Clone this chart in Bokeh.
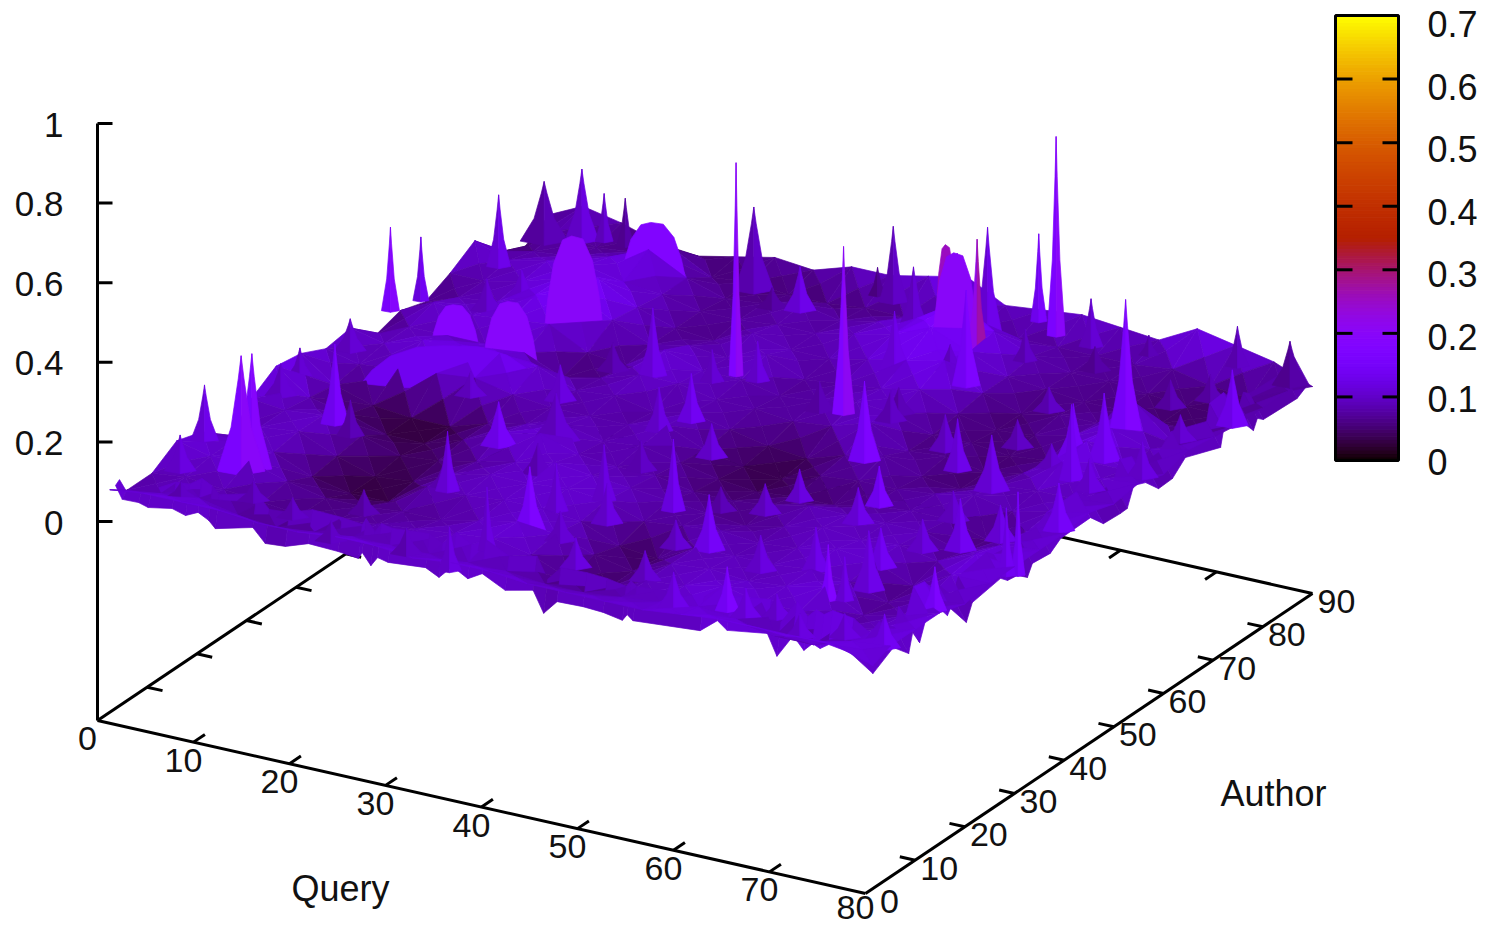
from bokeh.plotting import figure
from bokeh.models import Range1d, ColumnDataSource
from bokeh.core.properties import value
from bokeh.embed import file_html
from bokeh.resources import INLINE
import math

# ---------- data: surface heights (hundredths) ----------
query_nodes = [0.5, 4, 8, 12, 16, 20, 24, 28, 32, 36, 40, 44, 48, 52, 56, 60, 64, 68, 72, 76, 80]
author_nodes = [90, 85, 80, 75, 70, 65, 60, 55, 50, 45, 40, 35, 30, 25, 20, 15, 10, 5, 1.5]

z_a90 = [6,10,8,5,4,6,8,7,10,10,12,14,9,10,11,10,9,14,12,10,6]
z_a85 = [2,8,6,7,10,5,6,5,5,6,6,9,8,7,7,7,7,8,6,5,9]
z_a80 = [5,7,8,10,14,9,6,7,9,7,9,12,18,13,9,7,7,6,5,5,9]
z_a75 = [12,9,11,12,10,9,7,7,8,8,10,12,16,12,8,7,6,6,5,5,9]
z_a70 = [8,8,10,13,15,10,7,6,10,8,8,10,12,14,8,5,7,7,14,6,10]
z_a65 = [5,8,9,13,16,11,7,9,8,11,7,8,9,11,7,5,6,8,12,9,11]
z_a60 = [7,11,10,11,12,7,6,12,9,9,7,8,10,9,6,6,5,6,13,8,9]
z_a55 = [5,9,9,9,9,5,7,10,10,8,8,7,8,11,6,7,5,7,12,10,11]
z_a50 = [11,9,12,13,13,12,8,9,7,9,7,5,4,7,9,6,5,8,9,9,10]
z_a45 = [10,8,9,10,11,9,8,8,8,10,6,4,3,6,7,7,8,10,8,10,12]
z_a40 = [13,7,4,3,3,6,8,10,8,9,7,5,4,5,5,7,8,8,5,9,11]
z_a35 = [14,8,6,3,3,6,10,12,9,8,8,6,6,7,9,9,9,9,6,10,11]
z_a30 = [10,9,10,7,4,5,7,9,11,10,9,8,7,6,8,10,9,10,8,12,11]
z_a25 = [3,9,10,6,3,4,8,10,10,11,10,7,8,9,8,9,11,10,6,11,11]
z_a20 = [10,10,9,5,3,3,9,9,10,10,9,5,4,9,9,9,10,9,6,9,10]
z_a15 = [12,10,11,8,6,6,7,7,9,11,10,7,5,9,10,9,10,12,7,9,12]
z_a10 = [8,9,8,7,6,7,8,9,10,11,9,5,5,9,10,12,10,10,8,10,12]
z_a05 = [8,9,10,8,7,8,9,9,9,9,9,8,8,9,10,11,10,8,8,11,12]
z_a00 = [11,12,12,12,11,11,12,12,11,12,12,11,11,11,11,12,13,13,13,13,10]

# silhouette of the two front edges
front_edge_q = [1.1,1.8,3.5,4.5,7,8.4,9.7,10.8,11.5,15.4,16.7,18.8,21.2,24.3,26.4,26.8,27.7,28.4,29.5,33.4,34.8,36.2,37.8,39.3,41.7,44.6,45.7,47.1,49.8,51.9,53.9,54.4,55,62,63.8,64.8,69,70,71.7,72.8,73.7,74.5,75.4,77.6,80]
front_edge_z = [.124,.093,.094,.087,.098,.088,.103,.089,.072,.096,.063,.067,.087,.084,.078,.095,.067,.091,.085,.093,.076,.111,.089,.11,.081,.097,.045,.082,.084,.081,.072,.089,.077,.09,.125,.106,.121,.069,.13,.099,.121,.113,.128,.12,.08]
right_edge_a = [1.5,5.6,8.7,9.5,10.9,12.5,14.7,16.5,17.1,20.3,21.5,27.2,28.6,30.6,32.6,33.6,37.2,39.3,45.3,47.9,51.3,52.7,54,56.4,59,61.8,64.4,71.5,72.1,74.9,78.1,78.9,80.1,86.9,89.2]
right_edge_z = [.08,.111,.07,.116,.079,.141,.135,.10,.113,.051,.091,.104,.087,.083,.061,.088,.083,.103,.105,.068,.065,.066,.113,.10,.063,.065,.096,.062,.102,.106,.049,.073,.06,.056,.074]

# tall narrow peaks
spike_query = [34.7,47.5,55,52,59,.2,1.4,3.5,4.1,7,8.8,11,7.2,7.8,.8,2.4,9,11.6,1.7,.7,1.5,24.3,28.2,35.1,36.5,28.2,25.6,36.6,35.6,35,38.9,45.5,36.4,
               26.2,32.1,38.4,36.4,43.3,49.1,50.6,47.9,53.8,71.5,64.5,72.7,79,79.2,54.6,46.5,73.3,73,63,68,61,54.2,52.9,63.6,68,69.3,70,72.5,79.9,79,77.9,75.6,77.5,61.3,33.5,37,55.5]
spike_author = [61.5,58.4,86.7,89,86,58.6,62.4,74,82,84,85,85,15,16,20,12,30.4,28.5,47.6,39.4,34,33.8,57.3,45.2,49,37.8,21,16.3,9.6,3.2,26.8,28,22,
                81.5,79.4,86,86.7,80.6,84.3,79.3,80.5,70.9,68.8,87,89,87.4,75.4,48.9,70.6,61,55,51.4,48.6,39.5,36.6,20.9,21.7,15.7,16.5,20,33.6,30.9,30.3,43,53.6,18.8,8.3,59,61.4,79.5]
spike_height = [.615,.5,.58,.3,.2,.29,.24,.26,.23,.26,.2,.2,.37,.37,.22,.17,.28,.17,.16,.15,.16,.19,.25,.19,.2,.2,.23,.24,.24,.19,.22,.26,.2,
                .29,.19,.27,.15,.24,.34,.36,.3,.32,.41,.13,.18,.19,.22,.28,.23,.25,.27,.21,.22,.18,.16,.22,.19,.22,.19,.23,.21,.29,.25,.2,.16,.19,.19,.16,.18,.16]
spike_shade = [.21,.21,.2,.16,.11,.19,.14,.13,.09,.12,.11,.08,.2,.19,.13,.12,.16,.09,.11,.11,.11,.15,.13,.12,.14,.11,.13,.17,.12,.12,.12,.14,.12,
               .10,.13,.10,.07,.11,.13,.27,.2,.17,.18,.09,.1,.08,.15,.17,.13,.15,.14,.13,.13,.16,.12,.15,.13,.18,.13,.13,.14,.16,.14,.15,.12,.17,.17,.11,.12,.10]
spike_halfwidth = [7,11,9,8,12,9,8,12,24,17,9,9,24,20,14,16,14,14,16,12,16,18,14,14,14,24,12,16,9,12,12,12,12,
                   20,16,14,9,16,14,10,24,14,16,10,12,18,16,16,16,16,12,14,18,14,14,16,14,9,9,16,16,7,9,16,16,12,12,12,12,12]

# small low peaks that give the surface its rough texture
bump_query = [61.4,69.6,68.3,53,42.3,70.1,73.6,77.9,63.6,66,56.8,70,70.5,65,78.2,63.2,52,68.5,21.7,25,41.8,30.6,50,44.5,51.4,29.7,22.3,11.6,5.6,16.6,8.9,7.7,24.5,29.6,45.3,51.8,59.7,72.3,62.1,16.3,23.9,38.3,49.2,40.2,59.3,74.5,76.9,69.9,74.6,50.8]
bump_author = [34.5,31.6,25.7,32,41.9,5.9,8.2,7.9,7.6,9.2,6.2,56.8,60.2,59.6,59.2,69.4,59.2,39.9,11.7,21.6,21.8,29.5,19.8,10.3,10.9,4.8,3.9,9,6,7.2,68.2,63.5,56.4,78.6,57.8,61.2,55.3,76.3,80.8,43.6,47,35.4,30.4,15.5,18.9,37.8,69.4,70.9,79.9,73.5]
bump_height = [.17,.16,.18,.155,.165,.14,.14,.165,.155,.14,.17,.14,.215,.15,.17,.14,.155,.155,.14,.15,.18,.155,.15,.155,.155,.145,.13,.13,.12,.13,.15,.16,.15,.13,.155,.145,.17,.15,.14,.14,.17,.155,.14,.155,.17,.17,.145,.145,.145,.145]
bump_shade = [.13,.12,.14,.11,.12,.12,.12,.14,.13,.12,.13,.11,.15,.10,.12,.10,.10,.11,.09,.10,.12,.10,.11,.12,.11,.10,.10,.10,.10,.10,.12,.11,.09,.08,.09,.09,.11,.09,.08,.11,.12,.10,.09,.11,.12,.13,.11,.11,.09,.11]

# rounded broad humps
dome_query = [16, 14, 8, 16, 48, 46.5, 12]
dome_author = [65, 56, 56.5, 81, 80, 81, 48]
dome_height = [.30, .20, .155, .20, .306, .31, .145]
dome_shade = [.20, .195, .19, .18, .20, .255, .135]
dome_halfwidth = [30, 27, 24, 33, 24, 11, 90]

query_ticks = [0, 10, 20, 30, 40, 50, 60, 70, 80]
author_ticks = [0, 10, 20, 30, 40, 50, 60, 70, 80, 90]
z_ticks = [0, 0.2, 0.4, 0.6, 0.8, 1]
z_tick_labels = ["0", "0.2", "0.4", "0.6", "0.8", "1"]
cb_ticks = [0, 0.1, 0.2, 0.3, 0.4, 0.5, 0.6, 0.7]
cb_tick_labels = ["0", "0.1", "0.2", "0.3", "0.4", "0.5", "0.6", "0.7"]

rows = [z_a90, z_a85, z_a80, z_a75, z_a70, z_a65, z_a60, z_a55, z_a50, z_a45,
        z_a40, z_a35, z_a30, z_a25, z_a20, z_a15, z_a10, z_a05, z_a00]

# ---------- projection of the 3-D box on to the page ----------
X0, Y0 = 97, 521
QX, QY = 768 / 80, 173 / 80
AX, AY = 447 / 90, -300 / 90
ZS = 398
ZBASE = -0.5
SURF_DROP = 0.04
FONT = value("Liberation Sans")


def proj(q, a, z):
    return X0 + QX * q + AX * a, Y0 + QY * q + AY * a - ZS * z


def sproj(q, a, z):
    return proj(q, a, z - SURF_DROP)


def depth(q, a):
    return QY * q + AY * a


def palette(v):
    x = min(max(v / 0.7, 0), 1)
    r = math.sqrt(x)
    g = x ** 3
    b = max(math.sin(2 * math.pi * x), 0)
    return "#%02x%02x%02x" % (round(r * 255), round(g * 255), round(b * 255))


p = figure(width=1486, height=928, output_backend="svg", toolbar_location=None,
           x_range=Range1d(0, 1486), y_range=Range1d(928, 0), min_border=0)
p.xaxis.visible = False
p.yaxis.visible = False
p.xgrid.visible = False
p.ygrid.visible = False
p.outline_line_color = None
p.background_fill_color = "white"

# ---------- base box ----------
seg_x, seg_y = [], []


def seg(a, b):
    seg_x.append([a[0], b[0]])
    seg_y.append([a[1], b[1]])


o = proj(0, 0, ZBASE)
seg(o, proj(80, 0, ZBASE))
seg(proj(80, 0, ZBASE), proj(80, 90, ZBASE))
seg(proj(80, 90, ZBASE), proj(0, 90, ZBASE))
seg(proj(0, 90, ZBASE), o)
seg(o, proj(0, 0, 1))
for q in query_ticks[1:-1]:
    seg(proj(q, 0, ZBASE), proj(q, 2.3, ZBASE))
    seg(proj(q, 90, ZBASE), proj(q, 87.7, ZBASE))
for a in author_ticks[1:-1]:
    seg(proj(80, a, ZBASE), proj(78.4, a, ZBASE))
    seg(proj(0, a, ZBASE), proj(1.6, a, ZBASE))
for z in z_ticks:
    s = proj(0, 0, z)
    seg(s, (s[0] + 15, s[1]))
p.multi_line(seg_x, seg_y, line_color="black", line_width=3)

# ---------- surface and peaks, painted back to front ----------
items = []

# jagged edge strips go under anything nearer than a few units from the edge
for i in range(len(front_edge_q) - 1):
    q1, q2 = front_edge_q[i], front_edge_q[i + 1]
    z1, z2 = front_edge_z[i], front_edge_z[i + 1]
    x1, y1 = sproj(q1, 1.5, z1)
    x2, y2 = sproj(q2, 1.5, z2)
    h1, h2 = min(34, 2 + q1 * 3.5), min(34, 2 + q2 * 3.5)
    items.append((depth((q1 + q2) / 2, 9), [x1, x2, x2 + 4, x1 + 4], [y1, y2, y2 - h2, y1 - h1],
                  palette(0.05 + (z1 + z2) / 2 * 0.55)))
for i in range(len(right_edge_a) - 1):
    a1, a2 = right_edge_a[i], right_edge_a[i + 1]
    z1, z2 = right_edge_z[i], right_edge_z[i + 1]
    x1, y1 = sproj(80, a1, z1)
    x2, y2 = sproj(80, a2, z2)
    items.append((depth(74, (a1 + a2) / 2), [x1, x2, x2 - 14, x1 - 14], [y1, y2, y2 - 26, y1 - 26],
                  palette(0.05 + (z1 + z2) / 2 * 0.55)))

for j in range(len(author_nodes) - 1):
    for i in range(len(query_nodes) - 1):
        q1, q2 = query_nodes[i], query_nodes[i + 1]
        a1, a2 = author_nodes[j], author_nodes[j + 1]
        corners = [(q1, a1, rows[j][i] / 100), (q2, a1, rows[j][i + 1] / 100),
                   (q2, a2, rows[j + 1][i + 1] / 100), (q1, a2, rows[j + 1][i] / 100)]
        qc = sum(c[0] for c in corners) / 4
        ac = sum(c[1] for c in corners) / 4
        zc = sum(c[2] for c in corners) / 4
        for k in range(4):
            c1, c2 = corners[k], corners[(k + 1) % 4]
            pts = [sproj(*c1), sproj(*c2), sproj(qc, ac, zc)]
            v = (c1[2] + c2[2] + zc) / 3
            qk = (c1[0] + c2[0] + qc) / 3
            ak = (c1[1] + c2[1] + ac) / 3
            items.append((depth(qk, ak), [t[0] for t in pts], [t[1] for t in pts], palette(v)))


def add_peak(q, a, z, sh, hw, base=0.08):
    bx, by = sproj(q, a, base)
    tx, ty = sproj(q, a, z)
    h = by - ty
    key = depth(q, a) + 10
    fx, fy = bx, by + hw * 0.18
    lx = [bx - hw, bx - hw * 0.42, bx - hw * 0.12, tx, fx]
    ly = [by, by - h * 0.38, by - h * 0.8, ty, fy]
    rx = [tx, bx + hw * 0.12, bx + hw * 0.42, bx + hw, fx]
    ry = [ty, by - h * 0.8, by - h * 0.38, by, fy]
    items.append((key, lx, ly, palette(sh * 0.82)))
    items.append((key, rx, ry, palette(sh)))


for q, a, z, sh, hw in zip(spike_query, spike_author, spike_height, spike_shade, spike_halfwidth):
    add_peak(q, a, z, sh, hw)
for q, a, z, sh in zip(bump_query, bump_author, bump_height, bump_shade):
    add_peak(q, a, z, sh, 16)

DOME_PROFILE = [(-1, 0), (-.88, .35), (-.68, .72), (-.38, .96), (-.08, 1), (.3, .97), (.62, .75), (.85, .38), (1, 0), (.6, -.1), (0, -.14), (-.6, -.1)]
for q, a, z, sh, hw in zip(dome_query, dome_author, dome_height, dome_shade, dome_halfwidth):
    bx, by = sproj(q, a, 0.05)
    _, ty = sproj(q, a, z)
    h = by - ty
    items.append((depth(q, a) + 10, [bx + u * hw for u, _ in DOME_PROFILE],
                  [by - w * h for _, w in DOME_PROFILE], palette(sh)))

items.sort(key=lambda t: t[0])

src = ColumnDataSource(dict(xs=[t[1] for t in items], ys=[t[2] for t in items], c=[t[3] for t in items]))
p.patches("xs", "ys", source=src, fill_color="c", line_color="c", line_width=0.7)


def labels(xs, ys, texts, size, align="center"):
    p.text(xs, ys, text=texts, text_font=FONT, text_font_size=value(size), text_color="#111111",
           text_align=align, text_baseline="middle")


pts = [proj(q, 0, ZBASE) for q in query_ticks]
labels([t[0] - 10 for t in pts], [min(t[1] + 18, 907) for t in pts], [str(q) for q in query_ticks], "34px")
pts = [proj(80, a, ZBASE) for a in author_ticks]
labels([t[0] + 24 for t in pts], [t[1] + 8 for t in pts], [str(a) for a in author_ticks], "34px")
pts = [proj(0, 0, z) for z in z_ticks]
labels([X0 - 34 for t in pts], [t[1] + 1 for t in pts], z_tick_labels, "35px", "right")
labels([340], [888], ["Query"], "36px")
labels([1273], [793], ["Author"], "36px")

# ---------- colour box ----------
CB_L, CB_R, CB_T, CB_B = 1335, 1398, 15, 460
N = 128
levels = [i * 0.7 / N for i in range(N)]
cb_y = lambda v: CB_B - (CB_B - CB_T) * v / 0.7
cols = [palette(v + 0.35 / N) for v in levels]
p.quad(left=[CB_L] * N, right=[CB_R] * N, bottom=[cb_y(v) for v in levels],
       top=[cb_y(v + 0.7 / N) for v in levels], fill_color=cols, line_color=cols, line_width=1)
p.quad(left=[CB_L], right=[CB_R], bottom=[CB_B], top=[CB_T], fill_color=None, line_color="black", line_width=3)
p.multi_line([[CB_L, CB_L + 17] for v in cb_ticks[1:-1]] + [[CB_R - 16, CB_R] for v in cb_ticks[1:-1]],
             [[cb_y(v), cb_y(v)] for v in cb_ticks[1:-1]] * 2, line_color="black", line_width=3)
labels([1427] * len(cb_ticks), [461 - 625 * v for v in cb_ticks], cb_tick_labels, "36px", "left")

open("out.html", "w").write(file_html(p, INLINE))
